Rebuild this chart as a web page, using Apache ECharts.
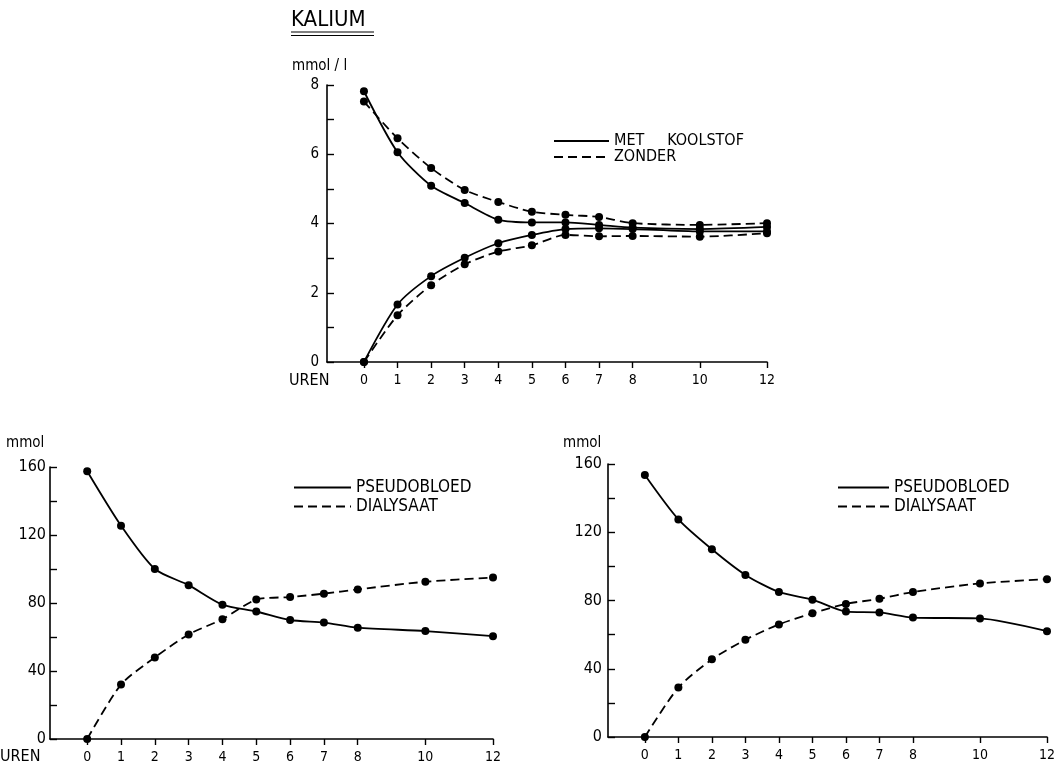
<!DOCTYPE html>
<html><head><meta charset="utf-8">
<script src="https://cdn.jsdelivr.net/npm/echarts@6/dist/echarts.min.js"></script>
<style>html,body{margin:0;padding:0;background:#fff}#c{width:1060px;height:768px}</style>
</head><body><div id="c"></div>
<script>
// ---- data ----
const hours = [0, 1, 2, 3, 4, 5, 6, 7, 8, 10, 12];
const xTicks = [0, 1, 2, 3, 4, 5, 6, 7, 8, 10, 12];
const kaliumTicks = [0, 2, 4, 6, 8];
const mmolTicks = [0, 40, 80, 120, 160];
// top chart: KALIUM mmol/l
const metKoolstofHigh = [7.82, 6.06, 5.09, 4.59, 4.11, 4.03, 4.03, 3.96, 3.88, 3.84, 3.90];
const metKoolstofLow  = [0, 1.66, 2.48, 3.01, 3.43, 3.67, 3.84, 3.86, 3.84, 3.77, 3.77];
const zonderHigh      = [7.52, 6.46, 5.60, 4.97, 4.62, 4.34, 4.25, 4.19, 4.01, 3.96, 4.01];
const zonderLow       = [0, 1.35, 2.22, 2.82, 3.19, 3.37, 3.67, 3.63, 3.64, 3.62, 3.72];
// bottom left: mmol
const pseudobloedL = [157.5, 125.5, 100, 90.5, 79, 75, 70, 68.5, 65.5, 63.5, 60.5];
const dialysaatL   = [0, 32, 48, 61.5, 70.5, 82, 83.5, 85.5, 88, 92.5, 95];
// bottom right: mmol
const pseudobloedR = [153.5, 127.5, 110, 95, 85, 80.5, 73.5, 73, 70, 69.5, 62];
const dialysaatR   = [0, 29, 45.5, 57, 66, 72.5, 78, 81, 85, 90, 92.5];

const FONT = '"DejaVu Sans Condensed", "Liberation Sans Narrow", "DejaVu Sans", sans-serif';
const pair = (arr) => hours.map((h, i) => [h, arr[i]]);

function xAxisFor(gi) {
  return {
    gridIndex: gi, type: 'value', min: -1.1, max: 12,
    axisLine: { onZero: false, lineStyle: { color: '#000', width: 1.6 } },
    axisTick: { show: true, inside: false, length: 6, customValues: xTicks, lineStyle: { color: '#000', width: 1.4 } },
    axisLabel: { customValues: xTicks, color: '#000', fontFamily: FONT, fontSize: 14, margin: 11 },
    splitLine: { show: false }
  };
}
function yAxisFor(gi, max, interval, labels, margin, size) {
  return {
    gridIndex: gi, type: 'value', min: 0, max: max, interval: interval,
    axisLine: { show: true, onZero: false, lineStyle: { color: '#000', width: 1.6 } },
    axisTick: { show: true, inside: true, length: 7, lineStyle: { color: '#000', width: 1.4 } },
    axisLabel: { color: '#000', fontFamily: FONT, fontSize: size, margin: margin,
      formatter: (v) => labels.indexOf(v) >= 0 ? String(v) : '' },
    splitLine: { show: false }
  };
}
function line(name, data, gi, dashed) {
  return {
    type: 'line', name: name, xAxisIndex: gi, yAxisIndex: gi, data: pair(data),
    smooth: 0.25, symbol: 'circle', symbolSize: 8,
    itemStyle: { color: '#000' },
    lineStyle: { color: '#000', width: 1.8, type: dashed ? [9, 5] : 'solid' },
    emphasis: { disabled: true }, animation: false
  };
}
function legend(names, left, top, w, size, gap) {
  return {
    data: names, left: left, top: top, orient: 'vertical', itemGap: gap, padding: 0,
    itemWidth: w, itemHeight: 10,
    itemStyle: { opacity: 0 },
    textStyle: { color: '#000', fontFamily: FONT, fontSize: size },
    selectedMode: false
  };
}
const txt = (text, left, top, size) => ({ text: text, left: left, top: top, padding: 0,
  textStyle: { color: '#000', fontFamily: FONT, fontSize: size, fontWeight: 'normal' } });

const chart = echarts.init(document.getElementById('c'));
chart.setOption({
  backgroundColor: '#fff',
  animation: false,
  title: [
    txt('KALIUM', 291, 9, 22),
    txt('mmol / l', 292, 59, 15),
    txt('UREN', 289, 373, 16),
    txt('mmol', 6, 436, 15),
    txt('UREN', 0, 749, 16),
    txt('mmol', 563, 436, 15)
  ],
  graphic: [
    { type: 'line', shape: { x1: 291, y1: 32, x2: 374, y2: 32 }, style: { stroke: '#000', lineWidth: 1.2 } },
    { type: 'line', shape: { x1: 291, y1: 35.5, x2: 374, y2: 35.5 }, style: { stroke: '#000', lineWidth: 1.2 } }
  ],
  grid: [
    { left: 327, top: 85, width: 440, height: 277 },
    { left: 50, top: 467, width: 443, height: 272 },
    { left: 608, top: 464, width: 439, height: 273 }
  ],
  xAxis: [xAxisFor(0), xAxisFor(1), xAxisFor(2)],
  yAxis: [
    yAxisFor(0, 8, 1, kaliumTicks, 8, 15),
    yAxisFor(1, 160, 20, mmolTicks, 4, 16),
    yAxisFor(2, 160, 20, mmolTicks, 6, 16)
  ],
  legend: [
    legend(['MET     KOOLSTOF', 'ZONDER'], 553, 133, 55, 16, 0),
    legend(['PSEUDOBLOED', 'DIALYSAAT'], 293, 479, 57, 17, 2),
    legend(['PSEUDOBLOED ', 'DIALYSAAT '], 837, 479, 51, 17, 2)
  ],
  series: [
    line('MET     KOOLSTOF', metKoolstofHigh, 0, false),
    line('MET     KOOLSTOF', metKoolstofLow, 0, false),
    line('ZONDER', zonderHigh, 0, true),
    line('ZONDER', zonderLow, 0, true),
    line('PSEUDOBLOED', pseudobloedL, 1, false),
    line('DIALYSAAT', dialysaatL, 1, true),
    line('PSEUDOBLOED ', pseudobloedR, 2, false),
    line('DIALYSAAT ', dialysaatR, 2, true)
  ]
});
</script></body></html>
